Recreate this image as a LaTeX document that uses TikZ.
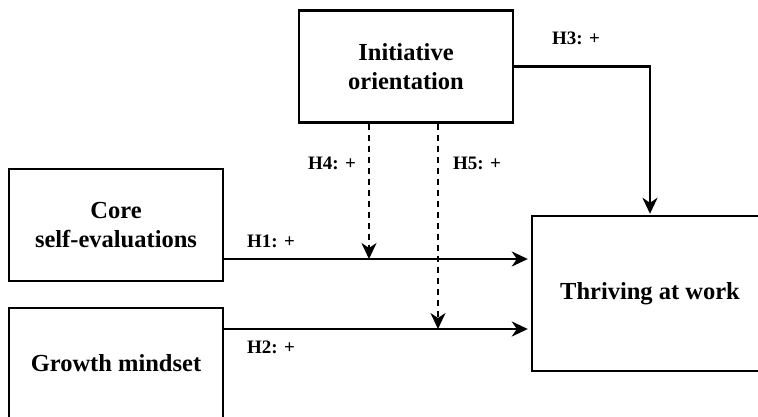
\documentclass[tikz,border=0pt]{standalone}
\usepackage{fontspec}
\setmainfont{Liberation Serif}
\usetikzlibrary{arrows.meta}
\tikzset{
  box/.style={draw, line width=2.4pt, minimum width=214pt, minimum height=112pt, align=center, inner sep=0pt, font=\fontsize{24.5}{29}\selectfont\bfseries},
  hyp/.style={font=\fontsize{19}{22}\selectfont\bfseries},
  arr/.style={line width=2.4pt, -{Stealth[length=16pt,width=15pt,inset=5pt]}},
  modarr/.style={arr, dash pattern=on 6pt off 5pt},
}
\begin{document}
\begin{tikzpicture}[x=1pt,y=-1pt]
\useasboundingbox (0,0) rectangle (758,416);

% variables
\node[box] (init) at (406,66.5) {Initiative\\orientation};
\node[box] (core) at (116,225) {Core\\self-evaluations};
\node[box, minimum height=110pt] (grow) at (116,363) {Growth mindset};
\node[box, minimum width=236pt, minimum height=155pt] (thrive) at (650,293.5) {Thriving at work};

% moderation points
\coordinate (m4) at (369,259);
\coordinate (m5) at (438,329);

% paths
\draw[arr] (core.east |- m4) -- ([xshift=-3pt]thrive.west |- m4);
\draw[arr] (grow.east |- m5) -- ([xshift=-3pt]thrive.west |- m5);
\draw[arr] (init.east) -| ([yshift=1pt]thrive.north);
\draw[modarr] (init.south -| m4) -- (m4);
\draw[modarr] (init.south -| m5) -- (m5);

\node[hyp] (h1) at (271,241) {H1: +};
\node[hyp] (h2) at (271,347) {H2: +};
\node[hyp] (h3) at (576,38) {H3: +};
\node[hyp] (h4) at (332,163) {H4: +};
\node[hyp] (h5) at (477,163) {H5: +};
\end{tikzpicture}
\end{document}
